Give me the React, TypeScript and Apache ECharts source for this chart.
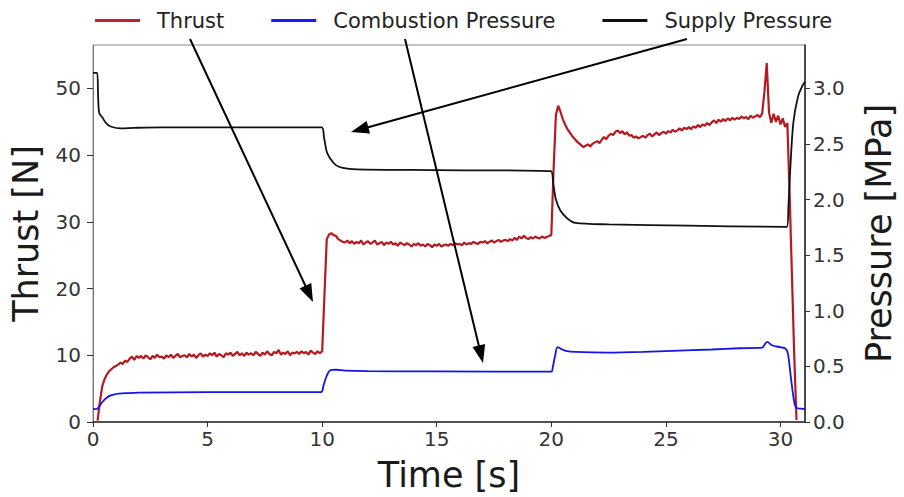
import React, { useEffect, useRef } from "react";
import * as echarts from "echarts";

const FONT = "DejaVu Sans";

// Tick labels
const xTicks = [0, 5, 10, 15, 20, 25, 30];
const thrustTicks = [0, 10, 20, 30, 40, 50];
const pressureTicks = [0, 0.5, 1.0, 1.5, 2.0, 2.5, 3.0];

// Thrust [N], sampled every 0.1 s from t = 0.2 s
const THRUST_START = 0.2;
const THRUST_STEP = 0.1;
const thrustValues = [
  0.2, 3.0, 5.3, 6.4, 7.1, 7.6, 7.9, 8.2,
  8.4, 8.6, 8.9, 8.7, 9.2, 9.0, 9.5, 9.8, 9.3, 9.9,
  9.6, 9.9, 9.5, 10.0, 9.7, 9.4, 9.9, 9.6, 10.1, 9.7,
  9.8, 9.5, 10.0, 9.7, 10.1, 9.6, 9.9, 10.2, 9.7, 9.9,
  10.0, 9.7, 10.2, 9.8, 10.1, 9.6, 10.0, 10.3, 9.8, 10.1,
  9.9, 10.3, 10.0, 10.4, 9.8, 10.2, 10.0, 9.7, 10.3, 10.1,
  10.4, 9.9, 10.2, 10.5, 10.0, 10.3, 9.9, 10.4, 10.1, 10.3,
  10.0, 10.5, 10.2, 9.9, 10.4, 10.1, 10.6, 10.2, 10.0, 10.5,
  10.3, 10.8, 10.1, 10.4, 10.2, 10.6, 10.0, 10.4, 10.3, 10.5,
  10.2, 10.6, 10.3, 10.5, 10.1, 10.7, 10.4, 10.2, 10.6, 10.3,
  10.6, 19.0, 27.4, 28.1, 28.3, 28.0, 27.9, 27.4, 27.2, 27.0,
  26.9, 27.2, 26.8, 27.1, 26.7, 27.0, 26.8, 27.2, 26.6, 26.9,
  27.1, 26.7, 26.9, 27.2, 26.6, 26.8, 27.0, 26.5, 26.9, 26.7,
  27.0, 26.6, 26.8, 26.4, 26.9, 26.7, 26.5, 26.8, 26.6, 26.3,
  26.7, 26.5, 26.8, 26.4, 26.6, 26.3, 26.7, 26.5, 26.2, 26.6,
  26.4, 26.7, 26.3, 26.5, 26.6, 26.4, 26.7, 26.5, 26.8, 26.6,
  26.7, 26.5, 26.9, 26.6, 26.8, 26.7, 27.0, 26.8, 26.7, 27.0,
  26.9, 27.1, 26.8, 27.0, 27.2, 26.9, 27.1, 27.3, 27.0, 27.2,
  27.3, 27.1, 27.4, 27.2, 27.6, 27.3, 27.8, 27.5, 27.9, 27.6,
  27.4, 27.7, 27.5, 27.8, 27.6, 27.5, 27.8, 27.6, 27.7, 27.9,
  28.0, 38.0, 46.0, 47.4, 46.5, 45.4, 44.6, 43.9, 43.4, 42.9,
  42.5, 42.1, 41.8, 41.5, 41.2, 41.4, 41.6, 41.3, 41.7, 41.9,
  42.1, 41.8, 42.3, 42.7, 42.4, 42.9, 43.2, 43.0, 43.5, 43.7,
  43.3, 43.6, 43.1, 43.4, 42.9, 43.0, 42.6, 42.8, 42.5, 42.7,
  42.9, 42.6, 43.0, 43.2, 42.8, 43.1, 43.4, 43.0, 43.3, 43.5,
  43.2, 43.6, 43.4, 43.8, 43.5, 43.7, 44.0, 43.7, 44.1, 43.9,
  44.2, 43.9, 44.3, 44.1, 44.5, 44.2, 44.6, 44.4, 44.8, 44.5,
  44.9, 45.2, 44.8, 45.3, 45.0, 45.4, 45.1, 45.5, 45.2, 45.6,
  45.3, 45.6, 45.4, 45.8, 45.5, 45.7, 45.4, 45.9, 45.6, 45.8,
  46.0, 45.7, 46.2, 49.5, 53.8, 46.4, 44.8, 46.2, 45.0, 45.9,
  44.6, 45.5, 44.2, 44.8, 34.0, 22.0, 10.0, 0.3,
];

// Combustion pressure [MPa]: [time s, value]
const combustionPressure = [
  [0, 0.12], [0.15, 0.115], [0.3, 0.15], [0.41, 0.18], [0.55, 0.21], [0.7, 0.233],
  [0.9, 0.247], [1.13, 0.255], [1.5, 0.26], [2, 0.264], [5, 0.268], [9.95, 0.269],
  [10.06, 0.33], [10.17, 0.4], [10.27, 0.446], [10.4, 0.468], [10.6, 0.47],
  [11, 0.462], [12, 0.457], [15, 0.455], [20.0, 0.453], [20.06, 0.49],
  [20.17, 0.6], [20.27, 0.674], [20.45, 0.655], [20.63, 0.64], [21.06, 0.63],
  [22.5, 0.624], [24, 0.63], [25.3, 0.64], [27, 0.652], [28.2, 0.663],
  [29.2, 0.668], [29.32, 0.7], [29.42, 0.72], [29.63, 0.69], [30.0, 0.672],
  [30.2, 0.663], [30.32, 0.62], [30.46, 0.39], [30.6, 0.18], [30.7, 0.127],
  [30.9, 0.12], [31.07, 0.115],
];

// Supply pressure [MPa]: [time s, value]
const supplyPressure = [
  [0, 3.14], [0.18, 3.14], [0.22, 2.95], [0.27, 2.78], [0.4, 2.74], [0.6, 2.68],
  [0.8, 2.655], [1.2, 2.64], [1.8, 2.645], [3, 2.65], [9.98, 2.65],
  [10.08, 2.56], [10.2, 2.43], [10.35, 2.37], [10.6, 2.31], [10.9, 2.285],
  [11.5, 2.272], [15, 2.265], [19.98, 2.255], [20.08, 2.15], [20.2, 2.0],
  [20.4, 1.9], [20.7, 1.83], [21.05, 1.79], [22.5, 1.777], [26, 1.765],
  [30.27, 1.754], [30.35, 1.95], [30.42, 2.25], [30.56, 2.69], [30.77, 2.93],
  [30.95, 3.02], [31.07, 3.06],
];

// Annotation arrows (pixel layout): [tailX, tailY, tipX, tipY]
const arrows = [
  [190, 39, 313, 302],
  [405, 39, 483, 363],
  [687, 39, 351, 132],
];

function arrowGraphics(a: number[]) {
  const [x1, y1, x2, y2] = a;
  const dx = x2 - x1;
  const dy = y2 - y1;
  const len = Math.sqrt(dx * dx + dy * dy);
  const ux = dx / len;
  const uy = dy / len;
  const L = 18;
  const W = 6.5;
  const bx = x2 - ux * L;
  const by = y2 - uy * L;
  return [
    {
      type: "line",
      z: 100,
      shape: { x1, y1, x2: bx + ux * 2, y2: by + uy * 2 },
      style: { stroke: "#000", lineWidth: 2 },
    },
    {
      type: "polygon",
      z: 100,
      shape: {
        points: [
          [x2, y2],
          [bx - uy * W, by + ux * W],
          [bx + uy * W, by - ux * W],
        ],
      },
      style: { fill: "#000" },
    },
  ];
}

export default function App() {
  const ref = useRef<HTMLDivElement>(null);

  useEffect(() => {
    if (!ref.current) return;
    const chart = echarts.init(ref.current, null, { renderer: "svg" });
    const thrustData = thrustValues.map((v, i) => [
      +(THRUST_START + i * THRUST_STEP).toFixed(2),
      v,
    ]);
    const tickColor = "#333";
    const option: any = {
      animation: false,
      backgroundColor: "#ffffff",
      textStyle: { fontFamily: FONT },
      grid: {
        left: 92,
        right: 86,
        top: 45,
        bottom: 70,
        show: true,
        borderColor: "#8a8a8a",
        borderWidth: 1,
        backgroundColor: "transparent",
      },
      legend: {
        top: 10,
        left: 95,
        padding: 0,
        itemWidth: 45,
        itemHeight: 3,
        itemGap: 47,
        icon: "rect",
        textStyle: {
          fontFamily: FONT,
          fontSize: 21,
          color: "#222",
          padding: [0, 0, 0, 12],
        },
        data: ["Thrust", "Combustion Pressure", "Supply Pressure"],
      },
      xAxis: {
        type: "value",
        min: 0,
        max: 31.07,
        name: "Time [s]",
        nameLocation: "middle",
        nameGap: 35,
        nameTextStyle: { fontFamily: FONT, fontSize: 35, color: "#1a1a1a" },
        axisLine: { show: true, onZero: false, lineStyle: { color: "#2a2a2a", width: 1.6 } },
        axisTick: { show: true, inside: false, length: 5, customValues: xTicks, lineStyle: { color: tickColor } },
        axisLabel: { customValues: xTicks, fontFamily: FONT, fontSize: 20, color: tickColor, margin: 7 },
        splitLine: { show: false },
      },
      yAxis: [
        {
          type: "value",
          min: 0,
          max: 56.5,
          position: "left",
          name: "Thrust [N]",
          nameLocation: "middle",
          nameRotate: 90,
          nameGap: 50,
          nameTextStyle: { fontFamily: FONT, fontSize: 35, color: "#1a1a1a" },
          axisLine: { show: true, onZero: false, lineStyle: { color: "#777", width: 1 } },
          axisTick: { show: true, inside: false, length: 6, customValues: thrustTicks, lineStyle: { color: tickColor } },
          axisLabel: { customValues: thrustTicks, fontFamily: FONT, fontSize: 20, color: tickColor, margin: 12 },
          splitLine: { show: false },
        },
        {
          type: "value",
          min: 0,
          max: 3.39,
          position: "right",
          name: "Pressure [MPa]",
          nameLocation: "middle",
          nameRotate: 90,
          nameGap: 56,
          nameTextStyle: { fontFamily: FONT, fontSize: 35, color: "#1a1a1a" },
          axisLine: { show: true, onZero: false, lineStyle: { color: "#2a2a2a", width: 1.6 } },
          axisTick: { show: true, inside: false, length: 5, customValues: pressureTicks, lineStyle: { color: tickColor } },
          axisLabel: {
            customValues: pressureTicks,
            fontFamily: FONT,
            fontSize: 20,
            color: tickColor,
            margin: 8,
            formatter: (v: number) => v.toFixed(1),
          },
          splitLine: { show: false },
        },
      ],
      series: [
        {
          name: "Thrust",
          type: "line",
          yAxisIndex: 0,
          data: thrustData,
          showSymbol: false,
          symbol: "none",
          color: "#c0202a",
          lineStyle: { color: "#b51a22", width: 2.2 },
        },
        {
          name: "Combustion Pressure",
          type: "line",
          yAxisIndex: 1,
          data: combustionPressure,
          showSymbol: false,
          symbol: "none",
          smooth: 0.3,
          color: "#1a1aff",
          lineStyle: { color: "#1414e6", width: 1.8 },
        },
        {
          name: "Supply Pressure",
          type: "line",
          yAxisIndex: 1,
          data: supplyPressure,
          showSymbol: false,
          symbol: "none",
          smooth: 0.3,
          color: "#111",
          lineStyle: { color: "#111", width: 1.8 },
        },
      ],
      graphic: arrows.flatMap((a) => arrowGraphics(a)),
    };
    chart.setOption(option);
    return () => chart.dispose();
  }, []);

  return (
    <div
      ref={ref}
      style={{ position: "absolute", left: 0, top: 0, width: 904, height: 497, background: "#fff" }}
    />
  );
}
